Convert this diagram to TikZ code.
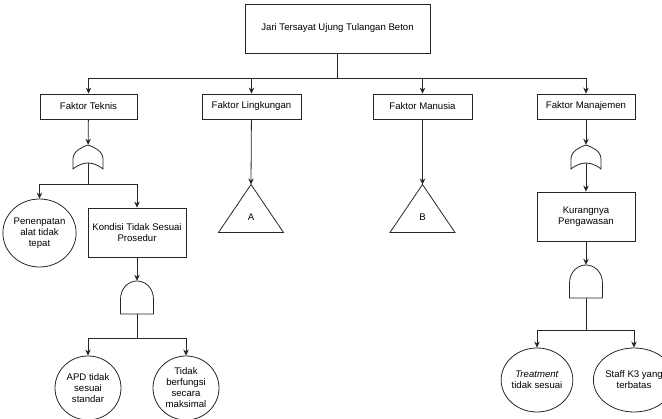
\documentclass[tikz,border=0pt]{standalone}
\usepackage{fontspec}
\setmainfont{Liberation Sans}
\usetikzlibrary{arrows.meta,shapes.geometric}
\tikzset{
  line/.style={draw=black!85,line width=0.8pt},
  arr/.style={line,-{Stealth[length=6pt,width=5.5pt]}},
  txt/.style={font=\fontsize{9.6}{11}\selectfont},
  box/.style={line,txt,rectangle,align=center,inner sep=1pt},
  basic/.style={line,txt,ellipse,align=center,inner sep=0pt,minimum width=66pt,minimum height=64pt},
  gatebox/.style={rectangle,inner sep=0pt,minimum width=#1pt,minimum height=#1pt},
  gatebox/.default=30,
  tri/.style={line,fill=white}
}
\begin{document}
\begin{tikzpicture}[x=1pt,y=-1pt]
\useasboundingbox (0,0) rectangle (662,419);
\node[box,minimum width=185pt,minimum height=49pt] (top) at (337.5,28.5) {Jari Tersayat Ujung Tulangan Beton};
\node[box,minimum width=97pt,minimum height=25pt] (teknis) at (88.5,106.5) {Faktor Teknis};
\node[box,minimum width=99pt,minimum height=25pt] (lingkungan) at (251.5,106.5) {Faktor Lingkungan};
\node[box,minimum width=99pt,minimum height=25pt] (manusia) at (422.5,106.5) {Faktor Manusia};
\node[box,minimum width=98pt,minimum height=25pt] (manajemen) at (586,106.5) {Faktor Manajemen};
\coordinate (bus) at (337.5,78);
\draw[line] (top) -- (bus);
\foreach \n in {teknis,lingkungan,manusia,manajemen}
	\draw[arr] (bus) -| (\n.north);
\node[gatebox=24] (or1) at (88,157) {};
\node[gatebox=24] (or2) at (586,157) {};
\foreach \g in {or1,or2}
	\draw[line,shift={(\g.center)}] (-15,12) -- (-15,2) .. controls (-15,-6) and (-6,-10) .. (0,-12) .. controls (6,-10) and (15,-6) .. (15,2) -- (15,12) .. controls (9,7) and (3,6) .. (0,6) .. controls (-3,6) and (-9,7) .. (-15,12) -- cycle;
\draw[arr] (teknis) -- (or1);
\draw[arr] (manajemen) -- (or2);
\node[basic,minimum width=60pt,minimum height=68pt] (penempatan) at (39.5,233) {Penenpatan\\alat tidak\\tepat};
\node[box,minimum width=98pt,minimum height=49pt] (kondisi) at (137,232.5) {Kondisi Tidak Sesuai\\Prosedur};
\coordinate (b1) at (88,184);
\draw[line] ([yshift=6pt]or1.south) -- (b1);
\draw[arr] (b1) -| (penempatan);
\draw[arr] (b1) -| (kondisi);
\node[box,minimum width=98pt,minimum height=49pt] (kurang) at (586,216.5) {Kurangnya\\Pengawasan};
\draw[arr] ([yshift=6pt]or2.south) -- (kurang);
\node[gatebox=33] (and1) at (137,297.5) {};
\node[gatebox=33] (and2) at (586,281.5) {};
\foreach \g in {and1,and2}
	\draw[line,shift={(\g.center)}] (-16.5,16.5) -- (-16.5,2) .. controls (-16.5,-10) and (-8,-16.5) .. (0,-16.5) .. controls (8,-16.5) and (16.5,-10) .. (16.5,2) -- (16.5,16.5) -- cycle;
\draw[arr] (kondisi) -- (and1);
\draw[arr] (kurang) -- (and2);
\node[basic] (apd) at (88,388) {APD tidak\\sesuai\\standar};
\node[basic] (fungsi) at (186,388) {Tidak\\berfungsi\\secara\\maksimal};
\coordinate (b2) at (137,338);
\draw[line] (and1.south) -- (b2);
\draw[arr] (b2) -| (apd);
\draw[arr] (b2) -| (fungsi);
\node[basic] (treatment) at (537,380) {\textit{Treatment}\\tidak sesuai};
\node[basic] (staff) at (634,380) {Staff K3 yang\\terbatas};
\coordinate (b3) at (586,330);
\draw[line] (and2.south) -- (b3);
\draw[arr] (b3) -| (treatment);
\draw[arr] (b3) -| (staff);
\coordinate (trA) at (251,184.5);
\coordinate (trB) at (422.5,184.5);
\draw[tri] (trA) -- ++(32.5,48) -- ++(-65,0) -- cycle;
\draw[tri] (trB) -- ++(32.5,48) -- ++(-65,0) -- cycle;
\node[txt] (labA) at (251,217) {A};
\node[txt] (labB) at (422.5,217) {B};
\draw[arr] (lingkungan) -- (trA);
\draw[arr] (manusia) -- (trB);
\end{tikzpicture}
\end{document}
